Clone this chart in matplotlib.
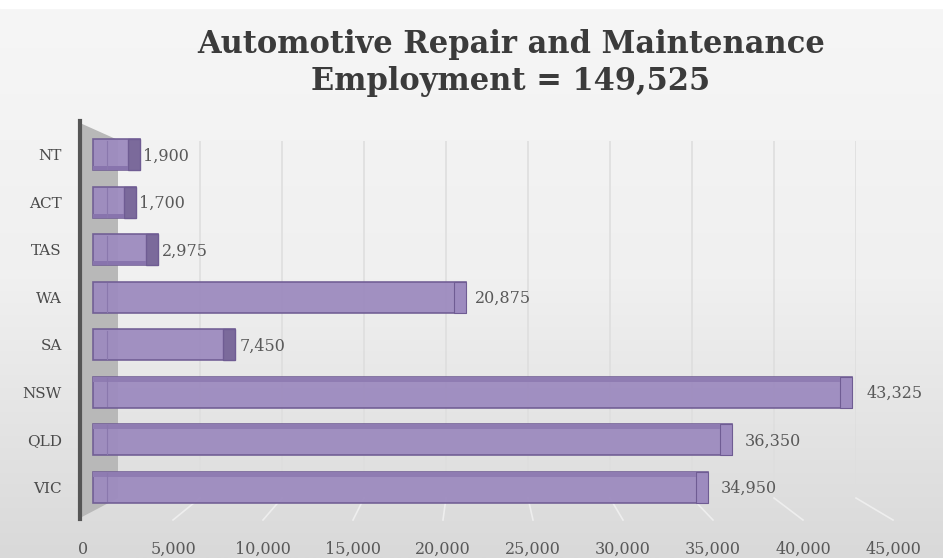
import matplotlib
matplotlib.use("Agg")
import matplotlib.pyplot as plt
import numpy as np
from matplotlib.patches import Polygon, Rectangle
from matplotlib.lines import Line2D

# data, bottom to top as drawn
STATES = ["VIC", "QLD", "NSW", "SA", "WA", "TAS", "ACT", "NT"]
EMPLOYMENT = [34950, 36350, 43325, 7450, 20875, 2975, 1700, 1900]
TOTAL = 149525
X_TICKS = list(range(0, 45001, 5000))

W, H = 943, 558
FONT = "DejaVu Serif"
BAR_FACE = "#9d8bbf"
BAR_EDGE = "#6f5c93"
BAR_DARK = "#7b6a9b"
TEXT = "#595959"


def fx(px):
    return px / W


def fy(py):
    return 1 - py / H


def axes_px(fig, left, top, right, bottom):
    return fig.add_axes([fx(left), fy(bottom), fx(right - left), (bottom - top) / H])


fig = plt.figure(figsize=(W / 100, H / 100), dpi=100)

# background gradient
bg = fig.add_axes([0, 0, 1, 1], zorder=-10)
grad = np.linspace(0, 1, 256)[:, None]
bg.imshow(grad, aspect="auto", cmap=plt.matplotlib.colors.LinearSegmentedColormap.from_list(
    "bgc", ["#f6f6f6", "#f0f0f0", "#d9d9d9"]), extent=[0, 1, 0, 1], transform=bg.transAxes)
bg.add_patch(Rectangle((0, fy(8)), 1, 1, color="white", transform=bg.transAxes))
bg.set_xlim(0, 1)
bg.set_ylim(0, 1)
bg.axis("off")

# side wall and axis line (figure coords)
wall = Polygon([(fx(80), fy(123)), (fx(118), fy(140)), (fx(118), fy(498)), (fx(80), fy(518))],
               closed=True, transform=fig.transFigure, facecolor="#b8b8b8", edgecolor="none", zorder=1)
fig.patches.append(wall)
fig.lines.append(Line2D([fx(80), fx(80)], [fy(121), fy(519)], transform=fig.transFigure,
                        color="#555555", lw=3, zorder=3))

# back wall gridlines
back = axes_px(fig, 118, 141, 856, 498)
back.set_xlim(0, 45000)
back.set_ylim(0, 1)
back.vlines(X_TICKS[1:], 0, 1, color="#dedede", lw=1.2)
back.axis("off")
back.patch.set_alpha(0)

# floor: tick labels and diagonal floor lines
floor = axes_px(fig, 83, 500, 893, 520)
floor.set_xlim(0, 45000)
floor.set_ylim(0, 1)
floor.set_xticks(X_TICKS)
floor.set_xticklabels([f"{t:,}" for t in X_TICKS], fontsize=11.5, color=TEXT, family=FONT)
floor.tick_params(axis="x", length=0, pad=15)
floor.set_yticks([])
for s in floor.spines.values():
    s.set_visible(False)
floor.patch.set_alpha(0)
for t in X_TICKS[1:]:
    p0 = fig.transFigure.inverted().transform(back.transData.transform((t, 0)))
    p1 = fig.transFigure.inverted().transform(floor.transData.transform((t, 0)))
    fig.lines.append(Line2D([p0[0], p1[0]], [p0[1], p1[1]], transform=fig.transFigure,
                            color="#eeeeee", lw=1.2, zorder=0.5))

# bars
px0, px_per = 107, 0.01719
left_px, right_px = 80, 890
ax = axes_px(fig, left_px, 125, right_px, 518)
ax.set_xlim((left_px - px0) / px_per, (right_px - px0) / px_per)
ax.set_ylim(-0.65, 7.63)
ax.patch.set_alpha(0)
ax.set_zorder(2)
depth = 14 / px_per
cap = 12 / px_per
y = np.arange(len(STATES))
ax.barh(y, [v + depth for v in EMPLOYMENT], left=-depth, height=0.65,
        color=BAR_FACE, edgecolor=BAR_EDGE, lw=1.2, alpha=0.95)
for i, v in enumerate(EMPLOYMENT):
    dark = v < 15000
    ax.add_patch(Rectangle((v - cap, i - 0.325), cap, 0.65,
                           facecolor=BAR_DARK if dark else BAR_FACE,
                           edgecolor=BAR_EDGE, lw=0.8 if not dark else 1.0))
    ax.plot([0, 0], [i - 0.3, i + 0.3], color="#8a78ad", lw=0.8)
    if i < 3:
        ax.add_patch(Rectangle((-depth, i + 0.22), v + depth - cap, 0.105,
                               facecolor="#8f7cb2", edgecolor="none"))
    elif i > 4:
        ax.add_patch(Rectangle((-depth, i - 0.325), v + depth - cap, 0.09,
                               facecolor="#8874ad", edgecolor="none"))
    off = 2 + 9 * v / max(EMPLOYMENT)
    ax.annotate(f"{v:,}", (v, i), xytext=(off, -1), textcoords="offset points",
                va="center", ha="left", fontsize=11.5, color=TEXT, family=FONT)

ax.set_yticks(y)
ax.set_yticklabels(STATES, fontsize=11, color="#4a4a4a", family=FONT)
ax.tick_params(axis="y", length=0, pad=13)
ax.set_xticks([])
for s in ax.spines.values():
    s.set_visible(False)

fig.text(fx(511), fy(45), "Automotive Repair and Maintenance", ha="center", va="center",
         fontsize=22, fontweight="bold", color="#3b3b3b", family=FONT)
fig.text(fx(511), fy(82), f"Employment = {TOTAL:,}", ha="center", va="center",
         fontsize=22, fontweight="bold", color="#3b3b3b", family=FONT)

fig.savefig("out.png", dpi=100)
